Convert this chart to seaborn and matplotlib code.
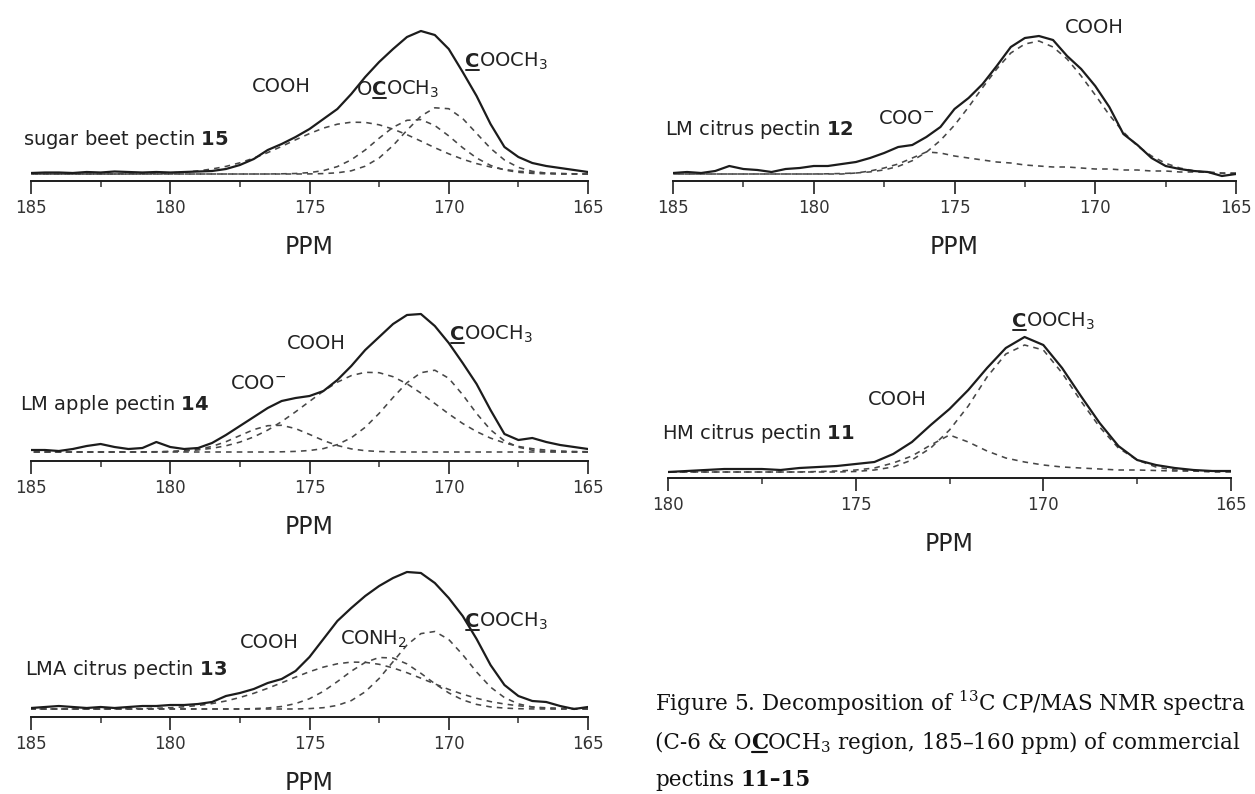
import matplotlib
matplotlib.use("Agg")
import matplotlib.pyplot as plt
from matplotlib.lines import Line2D
from matplotlib.ticker import MultipleLocator
import pandas as pd
import seaborn as sns

# chemical shift grids (ppm)
PPM_185 = [185.0, 184.5, 184.0, 183.5, 183.0, 182.5, 182.0, 181.5, 181.0, 180.5,
           180.0, 179.5, 179.0, 178.5, 178.0, 177.5, 177.0, 176.5, 176.0, 175.5,
           175.0, 174.5, 174.0, 173.5, 173.0, 172.5, 172.0, 171.5, 171.0, 170.5,
           170.0, 169.5, 169.0, 168.5, 168.0, 167.5, 167.0, 166.5, 166.0, 165.5, 165.0]
PPM_180 = [180.0, 179.5, 179.0, 178.5, 178.0, 177.5, 177.0, 176.5, 176.0, 175.5,
           175.0, 174.5, 174.0, 173.5, 173.0, 172.5, 172.0, 171.5, 171.0, 170.5,
           170.0, 169.5, 169.0, 168.5, 168.0, 167.5, 167.0, 166.5, 166.0, 165.5, 165.0]

# sugar beet pectin 15
BEET15_TOTAL = [1, 1.5, 1.5, 1, 2, 1.5, 2.5, 2, 1.5, 2, 1.5, 2, 2.5, 3, 5, 9, 15, 24, 30, 37,
                45, 55, 65, 80, 97, 112, 125, 137, 143, 139, 125, 102, 78, 50, 27, 17, 11, 8, 6, 4, 2]
BEET15_COOH = [0, 0, 0, 0, 0, 0, 0.1, 0.2, 0.3, 0.6, 1.0, 1.9, 3.1, 5.0, 7.6, 11.2, 15.9, 21.4,
               27.6, 34.2, 40.4, 45.9, 49.8, 51.8, 51.6, 49.2, 44.9, 39.3, 32.9, 26.3, 20.2, 14.8,
               10.4, 7.0, 4.5, 2.8, 1.7, 0.9, 0.5, 0.2, 0.1]
BEET15_OCOCH3 = [0] * 18 + [0.2, 0.5, 1.4, 3.4, 7.4, 14.2, 24.0, 35.8, 46.7, 53.7, 54.4, 48.5,
                            38.1, 26.3, 16.0, 8.6, 4.0, 1.7, 0.6, 0.2, 0, 0, 0]
BEET15_COOCH3 = [0] * 20 + [0.1, 0.4, 1.2, 3.2, 7.8, 16.0, 28.5, 43.7, 57.9, 66.2, 65.3, 55.5,
                            40.6, 25.7, 14.0, 6.6, 2.7, 0.9, 0.3, 0.1, 0]

# LM apple pectin 14
APPLE14_TOTAL = [2, 2, 1, 3, 6, 8, 5, 3, 4, 10, 5, 3, 4, 9, 17, 26, 35, 44, 51, 54, 56, 61, 72,
                 86, 102, 115, 128, 137, 138, 126, 109, 89, 68, 42, 18, 12, 14, 10, 7, 5, 3]
APPLE14_COO = [0] * 9 + [0.1, 0.4, 1.1, 2.6, 5.6, 10.3, 16.4, 22.4, 26.3, 26.7, 23.4, 17.6, 11.5,
                         6.5, 3.1, 1.3, 0.5, 0.1] + [0] * 14
APPLE14_COOH = [0] * 8 + [0.1, 0.3, 0.6, 1.2, 2.1, 3.7, 6.2, 9.9, 15.1, 21.9, 30.4, 40.2, 50.6,
                          60.9, 69.8, 76.4, 79.7, 79.3, 75.3, 68.2, 58.9, 48.5, 38.1, 28.5, 20.4,
                          13.9, 9.1, 5.6, 3.3, 1.9, 1.0, 0.5, 0.3]
APPLE14_COOCH3 = [0] * 18 + [0.2, 0.6, 1.5, 3.4, 7.4, 14.2, 24.7, 38.6, 54.5, 69.3, 79.3, 81.8,
                             73.7, 57.3, 38.5, 22.2, 11.1, 4.8, 1.8, 0.6, 0.2, 0, 0]

# LMA citrus pectin 13
LMA13_TOTAL = [1, 2, 3, 2, 1, 2, 1, 2, 3, 3, 4, 4, 5, 7, 13, 16, 20, 26, 30, 38, 52, 70, 88, 101,
               113, 123, 131, 137, 136, 126, 111, 93, 70, 44, 24, 13, 8, 7, 3, 0, 2]
LMA13_COOH = [0] * 6 + [0.1, 0.2, 0.4, 0.8, 1.3, 2.2, 3.5, 5.4, 8.0, 11.5, 15.7, 20.7, 26.2, 31.9,
                        37.3, 41.9, 45.2, 46.9, 46.7, 44.7, 41.1, 36.3, 30.8, 25.1, 19.6, 14.8,
                        10.7, 7.4, 5.0, 3.2, 2.0, 1.2, 0.7, 0.4, 0.2]
LMA13_CONH2 = [0] * 16 + [0.4, 1.0, 2.5, 5.4, 10.3, 17.7, 27.4, 37.8, 46.6, 51.5, 51.0, 45.1,
                          35.7, 25.3, 16.1, 9.1, 4.6, 2.1, 0.9, 0.3, 0.1] + [0] * 4
LMA13_COOCH3 = [0] * 20 + [0.4, 1.3, 3.6, 8.4, 17.2, 30.5, 47.3, 64.0, 75.4, 77.5, 69.5, 54.3,
                           37.0, 21.9, 11.4, 5.1, 2.0, 0.7, 0.2, 0.1, 0]

# LM citrus pectin 12
LM12_TOTAL = [1, 2, 1, 3, 8, 5, 4, 2, 5, 6, 8, 8, 10, 12, 16, 21, 27, 29, 37, 47, 65, 76, 90, 108,
              127, 136, 138, 134, 118, 105, 88, 67, 40, 29, 16, 8, 5, 3, 2, -2, 0]
LM12_COO = [0] * 13 + [1, 3, 6, 10, 16, 22, 21, 18, 16, 14, 12, 11, 9, 8, 7, 7, 6, 5, 5, 4, 4,
                       3, 3, 2, 2, 2, 1, 1]
LM12_COOH = [0] * 11 + [0.2, 0.5, 1, 2.1, 4.1, 7.6, 13.3, 21.8, 33.6, 48.8, 67, 86.5, 105, 121,
                        130, 133, 127, 115, 98, 79, 59, 42, 28, 18, 10.7, 6, 3.2, 1.6, 0.7, 0.3]

# HM citrus pectin 11
HM11_TOTAL = [0, 1, 2, 3, 3, 3, 2, 4, 5, 6, 8, 10, 18, 30, 47, 63, 82, 104, 124, 135, 127, 104,
              76, 49, 26, 12, 7, 4, 2, 1, 1]
HM11_COOH = [0] * 8 + [0.5, 1, 2, 4, 9, 16, 27, 37, 30, 21, 14, 10, 7, 5, 4, 3, 2, 2, 1.5, 1, 1,
                       1, 1]
HM11_COOCH3 = [0] * 10 + [0.5, 2, 5, 12, 24, 42, 66, 95, 118, 127, 122, 99, 71, 45, 24, 12, 5, 2,
                          1, 0, 0]

W, H = 1255, 794
INK = "#1c1c1c"

sns.set_theme(style="white")
plt.rcParams["font.family"] = ["DejaVu Sans"]

fig = plt.figure(figsize=(W / 100, H / 100), dpi=100)
fig.patch.set_facecolor("white")
renderer = fig.canvas.get_renderer()
to_fig = fig.transFigure.inverted()


def rich(px, py, parts, size, family, math_family, color):
    # parts: (text, bold, underline, gap before in em); pieces are chained left to right
    em = size * fig.dpi / 72
    for s, bold, under, gap in parts:
        px += gap * em
        fx, fy = to_fig.transform((px, py))
        t = fig.text(fx, fy, s, fontsize=size, family=family, math_fontfamily=math_family,
                     fontweight="bold" if bold else "normal", color=color,
                     ha="left", va="baseline")
        bb = t.get_window_extent(renderer)
        if under:
            uy = py - 0.15 * em
            (a, b), (c, _) = to_fig.transform([(bb.x0 + 0.04 * em, uy), (bb.x1 - 0.04 * em, uy)])
            fig.add_artist(Line2D([a, c], [b, b], color=color, lw=size * 0.1))
        px = bb.x1 - 0.03 * em


def C_ester():
    return [("C", True, True, 0), ("OOCH$_3$", False, False, 0)]


panels = [
    dict(ppm=PPM_185, total=BEET15_TOTAL, parts=[BEET15_COOH, BEET15_OCOCH3, BEET15_COOCH3],
         box=(31, 588, 181, 174), span=(185, 165),
         labels=[(185.29, 29, [("sugar beet pectin $\\mathbf{15}$", False, False, 0)]),
                 (177.06, 82, [("COOH", False, False, 0)]),
                 (173.29, 79, [("O", False, False, 0), ("C", True, True, 0),
                               ("OCH$_3$", False, False, 0)]),
                 (169.42, 107, C_ester())]),
    dict(ppm=PPM_185, total=APPLE14_TOTAL, parts=[APPLE14_COO, APPLE14_COOH, APPLE14_COOCH3],
         box=(31, 588, 461, 452), span=(185, 165),
         labels=[(185.39, 42, [("LM apple pectin $\\mathbf{14}$", False, False, 0)]),
                 (177.85, 63, [("COO$^{-}$", False, False, 0)]),
                 (175.81, 103, [("COOH", False, False, 0)]),
                 (169.95, 112, C_ester())]),
    dict(ppm=PPM_185, total=LMA13_TOTAL, parts=[LMA13_COOH, LMA13_CONH2, LMA13_COOCH3],
         box=(31, 588, 717, 709), span=(185, 165),
         labels=[(185.22, 34, [("LMA citrus pectin $\\mathbf{13}$", False, False, 0)]),
                 (177.5, 61, [("COOH", False, False, 0)]),
                 (173.9, 64, [("CONH$_2$", False, False, 0)]),
                 (169.42, 82, C_ester())]),
    dict(ppm=PPM_185, total=LM12_TOTAL, parts=[LM12_COO, LM12_COOH],
         box=(673, 1236, 181, 174), span=(185, 165),
         labels=[(185.28, 39, [("LM citrus pectin $\\mathbf{12}$", False, False, 0)]),
                 (177.72, 50, [("COO$^{-}$", False, False, 0)]),
                 (171.07, 141, [("COOH", False, False, 0)])]),
    dict(ppm=PPM_180, total=HM11_TOTAL, parts=[HM11_COOH, HM11_COOCH3],
         box=(668, 1231, 478, 472), span=(180, 165),
         labels=[(180.16, 33, [("HM citrus pectin $\\mathbf{11}$", False, False, 0)]),
                 (174.67, 67, [("COOH", False, False, 0)]),
                 (170.83, 145, C_ester())]),
]

AX_H = 165
for spec in panels:
    x0, x1, axis_y, base_y = spec["box"]
    ax = fig.add_axes([x0 / W, 1 - axis_y / H, (x1 - x0) / W, AX_H / H])
    ax.set_facecolor("none")
    frame = pd.DataFrame({"ppm": spec["ppm"], "total": spec["total"]})
    for i, comp in enumerate(spec["parts"]):
        frame[f"c{i}"] = comp
        sns.lineplot(data=frame, x="ppm", y=f"c{i}", ax=ax, color="#474747", lw=1.15,
                     linestyle=(0, (3.5, 3.2)), estimator=None, legend=False)
    sns.lineplot(data=frame, x="ppm", y="total", ax=ax, color=INK, lw=1.6,
                 estimator=None, legend=False)

    off = axis_y - base_y
    ax.set_ylim(-off, AX_H - off)
    ax.set_xlim(*spec["span"])
    ax.set_yticks([])
    ax.set_ylabel("")
    ax.xaxis.set_major_locator(MultipleLocator(5))
    ax.xaxis.set_minor_locator(MultipleLocator(2.5))
    ax.tick_params(axis="x", which="major", bottom=True, direction="out", length=9, width=1.3,
                   pad=4, labelsize=12, colors="#333333")
    ax.tick_params(axis="x", which="minor", bottom=True, direction="out", length=4.5,
                   width=1.1, colors="#333333")
    ax.set_xlabel("PPM", fontsize=17, labelpad=13, color="#222222")
    for side in ["left", "top", "right"]:
        ax.spines[side].set_visible(False)
    ax.spines["bottom"].set_linewidth(1.4)
    ax.spines["bottom"].set_color(INK)

    for lx, ly, parts in spec["labels"]:
        px, py = ax.transData.transform((lx, ly))
        rich(px, py, parts, 14, "DejaVu Sans", "dejavusans", "#222222")

# caption
CAP = 15.5
rich(655, H - 711, [("Figure 5. Decomposition of $^{13}$C CP/MAS NMR spectra", False, False, 0)],
     CAP, "DejaVu Serif", "dejavuserif", "#111111")
rich(655, H - 749, [("(C-6 & O", False, False, 0), ("C", True, True, 0),
                    ("OCH$_3$ region, 185–160 ppm) of commercial", False, False, 0)],
     CAP, "DejaVu Serif", "dejavuserif", "#111111")
rich(655, H - 786, [("pectins", False, False, 0), ("11–15", True, False, 0.3)],
     CAP, "DejaVu Serif", "dejavuserif", "#111111")

fig.savefig("out.png", dpi=100)
